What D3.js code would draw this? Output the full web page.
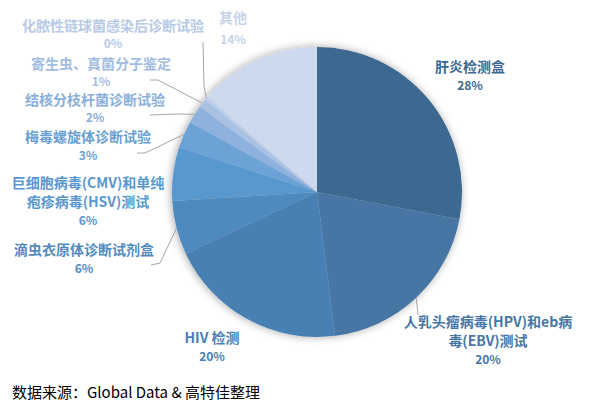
<!DOCTYPE html>
<html><head><meta charset="utf-8">
<script src="https://cdn.jsdelivr.net/npm/d3@7"></script>
<style>
html,body{margin:0;padding:0;background:#fff;}
svg{display:block;}
</style></head>
<body>
<svg id="chart" width="608" height="416"></svg>
<script>
// ---- data ----
const categories = ["肝炎检测盒","人乳头瘤病毒(HPV)和eb病毒(EBV)测试","HIV 检测","滴虫衣原体诊断试剂盒","巨细胞病毒(CMV)和单纯疱疹病毒(HSV)测试","梅毒螺旋体诊断试验","结核分枝杆菌诊断试验","寄生虫、真菌分子鉴定","化脓性链球菌感染后诊断试验","其他"];
const values = [28, 20, 20, 6, 6, 3, 2, 1, 0.4, 13.6];
const labelLines = [["肝炎检测盒"],["人乳头瘤病毒(HPV)和eb病","毒(EBV)测试"],["HIV 检测"],["滴虫衣原体诊断试剂盒"],["巨细胞病毒(CMV)和单纯","疱疹病毒(HSV)测试"],["梅毒螺旋体诊断试验"],["结核分枝杆菌诊断试验"],["寄生虫、真菌分子鉴定"],["化脓性链球菌感染后诊断试验"],["其他"]];
const colors = ["#3c6890","#4676a5","#4a80b4","#508abf","#5898cf","#6da2d6","#8eb2dd","#a9c2e4","#bdcfea","#cdd9ec"];
const labelColors = ["#3c6890","#4676a5","#4a80b4","#508abf","#5898cf","#6a9fd4","#8aafdb","#a3bde2","#b7cae6","#c5d3ea"];
const sourceText = "数据来源：Global Data & 高特佳整理";

// ---- layout (positions of labels, not data) ----
const cx = 317, cy = 192, R = 145;
const labelPos = [
  {x:470, y:67, gap:19}, {x:488, y:322, gap:19}, {x:212, y:338, gap:19}, {x:84, y:250, gap:19}, {x:88, y:183, gap:19},
  {x:88, y:137, gap:19}, {x:95, y:100, gap:18}, {x:101, y:64, gap:18}, {x:113, y:26, gap:18}, {x:233, y:18, gap:22}
];
const leaderPts = {
  1: [[418,315]],
  3: [[160,263],[151,265]],
  5: [[145,153],[137,153]],
  6: [[177,114],[150,115]],
  7: [[158,80],[150,80]],
  8: [[204,86],[203,42]]
};

const svg = d3.select("#chart");
const defs = svg.append("defs");
const f = defs.append("filter").attr("id","sh").attr("x","-20%").attr("y","-20%").attr("width","140%").attr("height","140%");
f.append("feDropShadow").attr("dx",-1).attr("dy",0).attr("stdDeviation",4).attr("flood-color","#000").attr("flood-opacity",0.35);

const total = d3.sum(values);
const pie = d3.pie().sort(null).value(d => d)(values);
const arc = d3.arc().innerRadius(0).outerRadius(R);

const g = svg.append("g").attr("transform", `translate(${cx},${cy})`);
const gp = g.append("g").attr("filter","url(#sh)");
gp.selectAll("path").data(pie).join("path")
  .attr("d", arc)
  .attr("fill", (d,i) => colors[i]);

// leader lines
const line = d3.line();
pie.forEach((d,i) => {
  if (!leaderPts[i]) return;
  const a = (d.startAngle + d.endAngle)/2;
  const start = [cx + R*Math.sin(a), cy - R*Math.cos(a)];
  svg.append("path")
    .attr("d", line([start, ...leaderPts[i]]))
    .attr("fill","none").attr("stroke","#a6a6a6").attr("stroke-width",1);
});

// labels
const fmt = v => Math.round(v/total*100) + "%";
const lab = svg.append("g").attr("font-family","'Noto Sans CJK SC', 'Noto Sans', sans-serif")
  .attr("text-anchor","middle");
categories.forEach((c,i) => {
  const p = labelPos[i];
  const lines = labelLines[i];
  const t = lab.append("text").attr("fill", labelColors[i]).attr("font-size",14).attr("font-weight","bold");
  lines.forEach((ln,k) => {
    t.append("tspan").attr("x", p.x).attr("y", p.y + k*19).attr("dy","0.35em").text(ln);
  });
  lab.append("text").attr("fill", labelColors[i]).attr("font-size",12).attr("font-weight","bold")
    .attr("x", p.x).attr("y", p.y + (lines.length-1)*19 + p.gap).attr("dy","0.35em").text(fmt(values[i]));
});

svg.append("text").attr("x",12).attr("y",393).attr("dy","0.35em")
  .attr("font-family","'Noto Sans CJK SC', sans-serif").attr("font-size",15).attr("fill","#000")
  .text(sourceText);
</script>
</body></html>
